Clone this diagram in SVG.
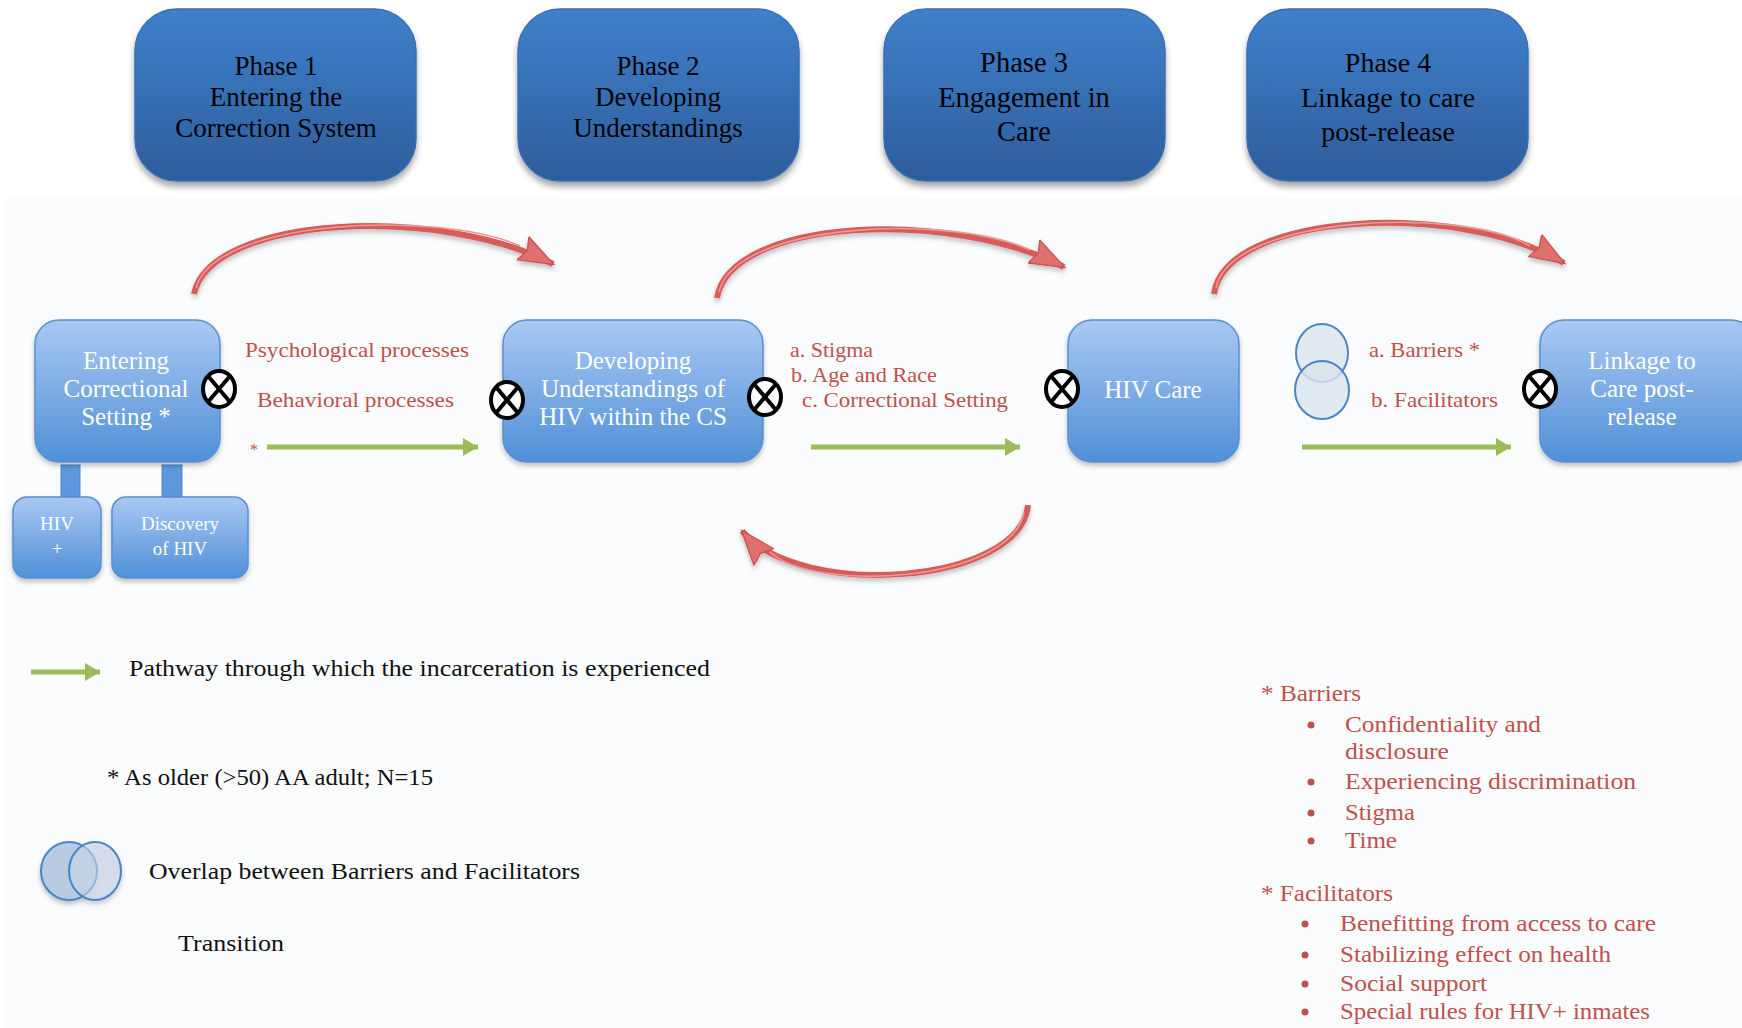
<svg xmlns="http://www.w3.org/2000/svg" width="1742" height="1028" viewBox="0 0 1742 1028">
  <defs>
    <linearGradient id="gPhase" x1="0" y1="0" x2="0" y2="1">
      <stop offset="0" stop-color="#3f80cc"/>
      <stop offset="1" stop-color="#2d5d9b"/>
    </linearGradient>
    <linearGradient id="gNode" x1="0" y1="0" x2="0" y2="1">
      <stop offset="0" stop-color="#a9c8f3"/>
      <stop offset="1" stop-color="#5090d7"/>
    </linearGradient>
    <filter id="shadow" x="-10%" y="-10%" width="120%" height="130%">
      <feDropShadow dx="0" dy="5" stdDeviation="3" flood-color="#000" flood-opacity="0.35"/>
    </filter>
    <filter id="softShadow" x="-10%" y="-10%" width="120%" height="130%">
      <feDropShadow dx="0" dy="3" stdDeviation="2.5" flood-color="#000" flood-opacity="0.25"/>
    </filter>
    <marker id="redHead" markerUnits="userSpaceOnUse" viewBox="0 -15 40 30" refX="34" refY="0" markerWidth="40" markerHeight="30" orient="auto">
      <path d="M0,-13 L35,0 L0,13 L5,0 Z" fill="#e0706d" stroke="#c9514e" stroke-width="1.2"/>
    </marker>
    <marker id="greenHead" markerUnits="userSpaceOnUse" viewBox="0 -10 16 20" refX="15" refY="0" markerWidth="16" markerHeight="20" orient="auto">
      <path d="M0,-9 L15,0 L0,9 Z" fill="#9bbb59"/>
    </marker>
    <g id="xmark">
      <ellipse cx="0" cy="0" rx="16" ry="18" fill="#fff" stroke="#000" stroke-width="4"/>
      <path d="M-11,-13 L11,13 M11,-13 L-11,13" stroke="#000" stroke-width="4"/>
    </g>
  </defs>
  <style>
    .phase { fill: url(#gPhase); stroke: #3a6fb3; stroke-width: 1.5; filter: url(#shadow); }
    .phaseText { font-family: "Liberation Serif", "Times New Roman", serif; font-size: 27px; fill: #000; text-anchor: middle; }
    .node { fill: url(#gNode); stroke: #5a8fd0; stroke-width: 1.5; filter: url(#softShadow); }
    .nodeText { font-family: "Liberation Serif", "DejaVu Serif", serif; font-size: 25px; fill: #fff; text-anchor: middle; }
    .smallText { font-family: "Liberation Serif", "DejaVu Serif", serif; font-size: 19px; fill: #fff; text-anchor: middle; }
    .red { font-family: "Liberation Serif", "DejaVu Serif", serif; font-size: 21px; fill: #c0504d; }
    .legend { font-family: "Liberation Serif", "DejaVu Serif", serif; font-size: 23px; fill: #111; }
    .list { font-family: "Liberation Serif", "DejaVu Serif", serif; font-size: 23px; fill: #c0504d; }
    .arc { fill: none; stroke: #d65b58; stroke-width: 6; marker-end: url(#redHead); filter: url(#softShadow); }
    .arcHi { fill: none; stroke: #ee9896; stroke-width: 1.6; }
    .green { stroke: #9bbb59; stroke-width: 5; fill: none; marker-end: url(#greenHead); }
    .venn { fill: #dbe3ee; fill-opacity: 0.8; stroke: #4a86c5; stroke-width: 2; }
    .bullet { fill: #c0504d; }
  </style>

  <!-- page background and lower panel -->
  <rect x="0" y="0" width="1742" height="1028" fill="#ffffff"/>
  <rect x="5" y="197" width="1737" height="831" fill="#fafcfe"/>

  <!-- phase headers -->
  <g id="phase1">
    <rect class="phase" x="135" y="9" width="281" height="172" rx="42"/>
    <text class="phaseText" x="276" y="75">Phase 1</text>
    <text class="phaseText" x="276" y="106">Entering the</text>
    <text class="phaseText" x="276" y="137">Correction System</text>
  </g>
  <g id="phase2">
    <rect class="phase" x="518" y="9" width="281" height="172" rx="42"/>
    <text class="phaseText" x="658" y="75">Phase 2</text>
    <text class="phaseText" x="658" y="106">Developing</text>
    <text class="phaseText" x="658" y="137">Understandings</text>
  </g>
  <g id="phase3">
    <rect class="phase" x="884" y="9" width="281" height="172" rx="42"/>
    <text class="phaseText" x="1024" y="72" style="font-size:28.5px">Phase 3</text>
    <text class="phaseText" x="1024" y="107" style="font-size:28.5px">Engagement in</text>
    <text class="phaseText" x="1024" y="141" style="font-size:28.5px">Care</text>
  </g>
  <g id="phase4">
    <rect class="phase" x="1247" y="9" width="281" height="172" rx="42"/>
    <text class="phaseText" x="1388" y="72" style="font-size:28px">Phase 4</text>
    <text class="phaseText" x="1388" y="107" style="font-size:28px">Linkage to care</text>
    <text class="phaseText" x="1388" y="141" style="font-size:28px">post-release</text>
  </g>

  <!-- connectors -->
  <g id="connectors">
    <path class="arc" d="M194,294 C210,215 440,205 553,264"/>
    <path class="arcHi" d="M196,288 C215,218 440,210 520,246"/>
    <path class="arc" d="M717,298 C730,218 950,208 1064,267"/>
    <path class="arcHi" d="M719,292 C735,222 950,213 1030,250"/>
    <path class="arc" d="M1214,294 C1225,212 1460,200 1564,263"/>
    <path class="arcHi" d="M1216,288 C1230,216 1460,205 1530,246"/>
    <path class="arc" d="M1028,505 C1020,585 800,600 742,531"/>
    <path class="arcHi" d="M1024,512 C1012,582 815,594 770,552"/>

    <line class="green" x1="267" y1="447" x2="478" y2="447"/>
    <line class="green" x1="811" y1="447" x2="1020" y2="447"/>
    <line class="green" x1="1302" y1="447" x2="1511" y2="447"/>

    <!-- stems from the entry node to its two sub-boxes -->
    <rect x="61" y="465" width="19" height="32" fill="#5e98dc" stroke="#4f86c8" stroke-width="1"/>
    <rect x="162" y="465" width="20" height="32" fill="#5e98dc" stroke="#4f86c8" stroke-width="1"/>
  </g>

  <g id="node-entering">
    <rect class="node" x="35" y="320" width="185" height="142" rx="24"/>
    <text class="nodeText" x="126" y="369">Entering</text>
    <text class="nodeText" x="126" y="397">Correctional</text>
    <text class="nodeText" x="126" y="425">Setting *</text>
    <use href="#xmark" x="219" y="389"/>
  </g>
  <g id="node-hivpos">
    <rect class="node" x="13" y="497" width="88" height="81" rx="14"/>
    <text class="smallText" x="57" y="530">HIV</text>
    <text class="smallText" x="57" y="555">+</text>
  </g>
  <g id="node-discovery">
    <rect class="node" x="112" y="497" width="136" height="81" rx="14"/>
    <text class="smallText" x="180" y="530">Discovery</text>
    <text class="smallText" x="180" y="555">of HIV</text>
  </g>

  <g id="label-processes">
    <text class="red" x="245" y="357" textLength="224" lengthAdjust="spacingAndGlyphs">Psychological processes</text>
    <text class="red" x="257" y="407" textLength="197" lengthAdjust="spacingAndGlyphs">Behavioral processes</text>
    <text class="red" x="250" y="455" style="font-size:16px">*</text>
  </g>

  <g id="node-developing">
    <rect class="node" x="503" y="320" width="260" height="142" rx="24"/>
    <text class="nodeText" x="633" y="369">Developing</text>
    <text class="nodeText" x="633" y="397">Understandings of</text>
    <text class="nodeText" x="633" y="425">HIV within the CS</text>
    <use href="#xmark" x="507" y="400"/>
    <use href="#xmark" x="765" y="397"/>
  </g>

  <g id="label-factors">
    <text class="red" x="790" y="357" textLength="83" lengthAdjust="spacingAndGlyphs">a. Stigma</text>
    <text class="red" x="791" y="382" textLength="146" lengthAdjust="spacingAndGlyphs">b. Age and Race</text>
    <text class="red" x="802" y="407" textLength="206" lengthAdjust="spacingAndGlyphs">c. Correctional Setting</text>
  </g>

  <g id="node-hivcare">
    <rect class="node" x="1068" y="320" width="171" height="142" rx="24"/>
    <text class="nodeText" x="1153" y="398">HIV Care</text>
    <use href="#xmark" x="1062" y="389"/>
  </g>

  <g id="label-barriers">
    <ellipse class="venn" cx="1322" cy="353" rx="26" ry="29"/>
    <ellipse class="venn" cx="1322" cy="390" rx="27" ry="29"/>
    <text class="red" x="1369" y="357" textLength="111" lengthAdjust="spacingAndGlyphs">a. Barriers *</text>
    <text class="red" x="1371" y="407" textLength="127" lengthAdjust="spacingAndGlyphs">b. Facilitators</text>
  </g>

  <g id="node-linkage">
    <rect class="node" x="1540" y="320" width="215" height="142" rx="24"/>
    <text class="nodeText" x="1642" y="369">Linkage to</text>
    <text class="nodeText" x="1642" y="397">Care post-</text>
    <text class="nodeText" x="1642" y="425">release</text>
    <use href="#xmark" x="1540" y="389"/>
  </g>

  <!-- legend -->
  <g id="legend">
    <line class="green" x1="31" y1="672" x2="100" y2="672"/>
    <text class="legend" x="129" y="676" textLength="581" lengthAdjust="spacingAndGlyphs">Pathway through which the incarceration is experienced</text>
    <text class="legend" x="107" y="785" textLength="326" lengthAdjust="spacingAndGlyphs">* As older (&gt;50) AA adult; N=15</text>
    <g filter="url(#softShadow)">
      <ellipse cx="69" cy="871" rx="28" ry="29" fill="#b9cbe2" stroke="#4a86c5" stroke-width="2"/>
      <ellipse cx="95" cy="871" rx="26" ry="29" fill="#c9d6e8" fill-opacity="0.6" stroke="#4a86c5" stroke-width="2"/>
    </g>
    <text class="legend" x="149" y="879" textLength="431" lengthAdjust="spacingAndGlyphs">Overlap between Barriers and Facilitators</text>
    <text class="legend" x="178" y="951" textLength="106" lengthAdjust="spacingAndGlyphs">Transition</text>
  </g>

  <!-- barriers and facilitators list -->
  <g id="list">
    <text class="list" x="1261" y="701" textLength="100" lengthAdjust="spacingAndGlyphs">* Barriers</text>
    <circle class="bullet" cx="1311" cy="725" r="3.5"/>
    <text class="list" x="1345" y="732" textLength="196" lengthAdjust="spacingAndGlyphs">Confidentiality and</text>
    <text class="list" x="1345" y="759" textLength="104" lengthAdjust="spacingAndGlyphs">disclosure</text>
    <circle class="bullet" cx="1311" cy="782" r="3.5"/>
    <text class="list" x="1345" y="789" textLength="291" lengthAdjust="spacingAndGlyphs">Experiencing discrimination</text>
    <circle class="bullet" cx="1311" cy="813" r="3.5"/>
    <text class="list" x="1345" y="820" textLength="70" lengthAdjust="spacingAndGlyphs">Stigma</text>
    <circle class="bullet" cx="1311" cy="841" r="3.5"/>
    <text class="list" x="1345" y="848" textLength="52" lengthAdjust="spacingAndGlyphs">Time</text>

    <text class="list" x="1261" y="901" textLength="132" lengthAdjust="spacingAndGlyphs">* Facilitators</text>
    <circle class="bullet" cx="1305" cy="924" r="3.5"/>
    <text class="list" x="1340" y="931" textLength="316" lengthAdjust="spacingAndGlyphs">Benefitting from access to care</text>
    <circle class="bullet" cx="1305" cy="955" r="3.5"/>
    <text class="list" x="1340" y="962" textLength="271" lengthAdjust="spacingAndGlyphs">Stabilizing effect on health</text>
    <circle class="bullet" cx="1305" cy="984" r="3.5"/>
    <text class="list" x="1340" y="991" textLength="147" lengthAdjust="spacingAndGlyphs">Social support</text>
    <circle class="bullet" cx="1305" cy="1012" r="3.5"/>
    <text class="list" x="1340" y="1019" textLength="310" lengthAdjust="spacingAndGlyphs">Special rules for HIV+ inmates</text>
  </g>
</svg>
